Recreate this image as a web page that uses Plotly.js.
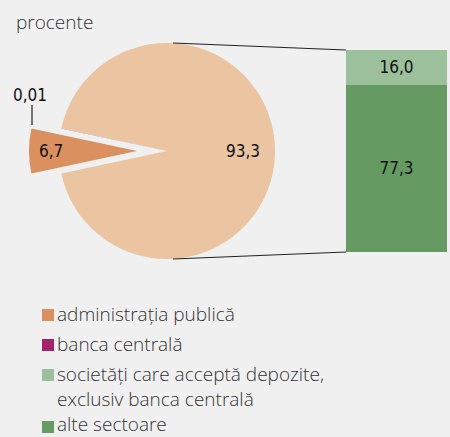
<!DOCTYPE html>
<html><head><meta charset="utf-8">
<script src="https://cdn.plot.ly/plotly-3.0.1.min.js"></script>
<style>html,body{margin:0;padding:0;background:#f0f0f0}</style>
</head><body>
<div id="chart" style="width:450px;height:437px"></div>
<script>
// ---- data ----
const pieLabels = ['administrația publică', 'banca centrală', 'alte sectoare (total)'];
const pieValues = [6.7, 0.01, 93.3];
const pieColors = ['#da915f', '#a3246b', '#ebc4a1'];
const barLabels = ['alte sectoare', 'societăți care acceptă depozite, exclusiv banca centrală'];
const barValues = [77.3, 16.0];
const barColors = ['#659a63', '#9dc09c'];
const legendLabels = ['administrația publică', 'banca centrală', 'societăți care acceptă depozite,<br>exclusiv banca centrală', 'alte sectoare'];
const legendColors = ['#da915f', '#a3246b', '#9dc09c', '#659a63'];
const unitLabel = 'procente';

// ---- layout constants (pixels) ----
const W = 450, H = 437;
const cx = 167, cy = 151, R = 108, pull = 0.278;
const half = R * (1 + pull);
const bx0 = 346, bx1 = 447, by0 = 50, by1 = 252;
const numFont = {family: 'DejaVu Sans Condensed, sans-serif', size: 17, color: '#111'};
const txtFont = {family: 'Open Sans, sans-serif', size: 19, color: '#333', weight: 300};
const px = x => x / W, py = y => 1 - y / H;
const fmt = v => v.toFixed(v < 0.1 ? 2 : 1).replace('.', ',');

const total = pieValues.reduce((a, b) => a + b, 0);
const span = pieValues[0] / total * 360;

const traces = [
  {
    type: 'pie', labels: pieLabels, values: pieValues, sort: false,
    direction: 'clockwise', rotation: 270 - span / 2 - 360,
    pull: [pull, 0, 0],
    marker: {colors: pieColors, line: {width: 0}},
    textinfo: 'none', showlegend: false, hoverinfo: 'none',
    domain: {x: [px(cx - half), px(cx + half)], y: [py(cy + half), py(cy - half)]}
  }
];
barLabels.forEach((n, i) => traces.push({
  type: 'bar', name: n, x: [0], y: [barValues[i]], marker: {color: barColors[i], line: {width: 0}},
  texttemplate: '%{y:.1f}', textposition: 'inside', insidetextanchor: 'middle',
  textfont: numFont, showlegend: false, hoverinfo: 'none', xaxis: 'x', yaxis: 'y'
}));

const barTotal = barValues.reduce((a, b) => a + b, 0);
const shapes = [
  {type: 'line', xref: 'paper', yref: 'paper', x0: px(cx + 6), y0: py(cy - R), x1: px(bx0), y1: py(by0), line: {color: '#222', width: 1.2}},
  {type: 'line', xref: 'paper', yref: 'paper', x0: px(cx + 6), y0: py(cy + R), x1: px(bx0), y1: py(by1), line: {color: '#222', width: 1.2}},
  {type: 'line', xref: 'paper', yref: 'paper', x0: px(32), y0: py(105), x1: px(32), y1: py(125), line: {color: '#222', width: 1.2}}
];
const annotations = [
  {xref: 'paper', yref: 'paper', x: px(14), y: py(22), xanchor: 'left', yanchor: 'middle', text: unitLabel, showarrow: false, font: txtFont},
  {xref: 'paper', yref: 'paper', x: px(30), y: py(95), xanchor: 'center', yanchor: 'middle', text: fmt(pieValues[1]), showarrow: false, font: numFont},
  // slice labels: small (pulled) slice at its mid-angle (left), big slice opposite (right)
  {xref: 'paper', yref: 'paper', x: px(cx - pull * R - 0.8 * R), y: py(cy), xanchor: 'center', yanchor: 'middle', text: fmt(pieValues[0]), showarrow: false, font: numFont},
  {xref: 'paper', yref: 'paper', x: px(cx + 0.7 * R), y: py(cy), xanchor: 'center', yanchor: 'middle', text: fmt(pieValues[2]), showarrow: false, font: numFont}
];
const squareY = [315, 345, 375, 427];
const textY = [314, 344, 386, 424];
legendLabels.forEach((t, i) => {
  shapes.push({type: 'rect', xref: 'paper', yref: 'paper', x0: px(42), x1: px(54), y0: py(squareY[i] - 6), y1: py(squareY[i] + 6), fillcolor: legendColors[i], line: {width: 0}});
  annotations.push({xref: 'paper', yref: 'paper', x: px(56), y: py(textY[i]), xanchor: 'left', yanchor: 'middle', align: 'left', borderpad: 0, text: t, showarrow: false, font: txtFont});
});

const layout = {
  width: W, height: H, margin: {l: 0, r: 0, t: 0, b: 0, pad: 0},
  paper_bgcolor: '#f0f0f0', plot_bgcolor: 'rgba(0,0,0,0)',
  separators: ', ', barmode: 'stack', bargap: 0, showlegend: false,
  xaxis: {domain: [px(bx0), px(bx1)], range: [-0.5, 0.5], visible: false, fixedrange: true},
  yaxis: {domain: [py(by1), py(by0)], range: [0, barTotal], visible: false, fixedrange: true},
  shapes: shapes, annotations: annotations
};
Plotly.newPlot('chart', traces, layout, {displayModeBar: false, staticPlot: true});
</script>
</body></html>
